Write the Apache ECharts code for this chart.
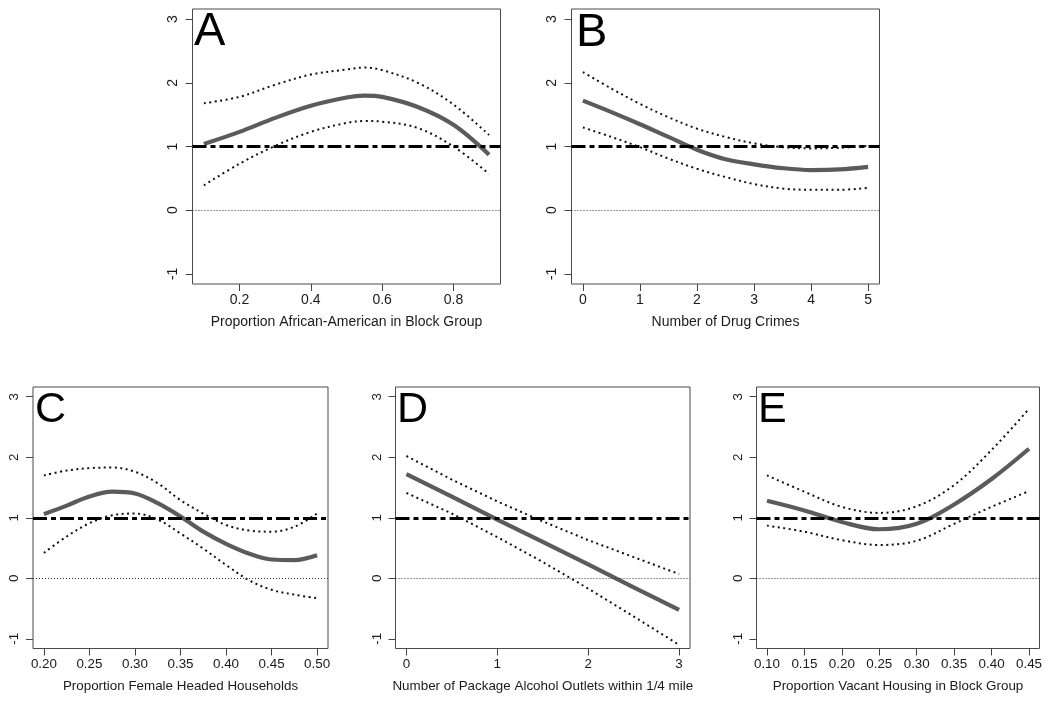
<!DOCTYPE html>
<html>
<head>
<meta charset="utf-8">
<script src="https://cdn.jsdelivr.net/npm/echarts@6/dist/echarts.min.js"></script>
<style>
html,body{margin:0;padding:0;background:#fff;}
#chart{width:1050px;height:704px;}
</style>
</head>
<body>
<div id="chart"></div>
<script>
// ---------- DATA ----------
const panelLetters = ['A', 'B', 'C', 'D', 'E'];
const xTitles = [
  'Proportion African-American in Block Group',
  'Number of Drug Crimes',
  'Proportion Female Headed Households',
  'Number of Package Alcohol Outlets within 1/4 mile',
  'Proportion Vacant Housing in Block Group'
];
const yTicks = [-1, 0, 1, 2, 3];

const xTicksA = [0.2, 0.4, 0.6, 0.8];
const xTicksB = [0, 1, 2, 3, 4, 5];
const xTicksC = [0.20, 0.25, 0.30, 0.35, 0.40, 0.45, 0.50];
const xTicksD = [0, 1, 2, 3];
const xTicksE = [0.10, 0.15, 0.20, 0.25, 0.30, 0.35, 0.40, 0.45];

// Panel A
const aX     = [0.1, 0.2, 0.3, 0.4, 0.5, 0.55, 0.6, 0.7, 0.8, 0.9];
const aFit   = [1.04, 1.23, 1.45, 1.64, 1.77, 1.80, 1.78, 1.62, 1.34, 0.87];
const aUpper = [1.68, 1.78, 1.97, 2.13, 2.21, 2.24, 2.20, 2.00, 1.66, 1.18];
const aLower = [0.39, 0.73, 1.01, 1.23, 1.37, 1.40, 1.39, 1.29, 1.00, 0.57];

// Panel B
const bX     = [0, 0.5, 1, 1.5, 2, 2.5, 3, 3.5, 4, 4.5, 5];
const bFit   = [1.72, 1.54, 1.35, 1.15, 0.95, 0.80, 0.72, 0.66, 0.63, 0.64, 0.68];
const bUpper = [2.17, 1.91, 1.67, 1.46, 1.28, 1.15, 1.05, 0.99, 0.97, 0.98, 1.01];
const bLower = [1.30, 1.15, 0.99, 0.81, 0.65, 0.52, 0.41, 0.34, 0.32, 0.32, 0.35];

// Panel C
const cX     = [0.2, 0.225, 0.25, 0.275, 0.3, 0.325, 0.35, 0.375, 0.4, 0.425, 0.45, 0.475, 0.5];
const cFit   = [1.06, 1.20, 1.35, 1.43, 1.40, 1.24, 1.02, 0.77, 0.57, 0.41, 0.31, 0.30, 0.38];
const cUpper = [1.70, 1.78, 1.82, 1.83, 1.76, 1.57, 1.29, 1.07, 0.88, 0.79, 0.77, 0.85, 1.07];
const cLower = [0.42, 0.69, 0.91, 1.04, 1.07, 0.97, 0.74, 0.49, 0.22, -0.03, -0.19, -0.27, -0.33];

// Panel D
const dX     = [0, 0.5, 1, 1.5, 2, 2.5, 3];
const dFit   = [1.72, 1.35, 0.97, 0.60, 0.23, -0.15, -0.52];
const dUpper = [2.02, 1.63, 1.27, 0.94, 0.63, 0.35, 0.07];
const dLower = [1.41, 1.07, 0.68, 0.27, -0.17, -0.63, -1.10];

// Panel E
const eX     = [0.10, 0.15, 0.20, 0.25, 0.30, 0.35, 0.40, 0.45];
const eFit   = [1.28, 1.12, 0.93, 0.81, 0.90, 1.22, 1.64, 2.14];
const eUpper = [1.70, 1.43, 1.18, 1.08, 1.19, 1.54, 2.12, 2.80];
const eLower = [0.87, 0.77, 0.63, 0.55, 0.62, 0.90, 1.18, 1.44];

const refLine = 1;   // dash-dot reference
const zeroLine = 0;  // thin dotted reference

// ---------- LAYOUT ----------
const FONT = '"Liberation Sans", Arial, sans-serif';
const panels = [
  {x: aX, fit: aFit, up: aUpper, lo: aLower, ticks: xTicksA, dec: 1, xmin: 0.068, xmax: 0.932, fs: 14,
   grid: {left: 192.5, top: 9, width: 308, height: 275}, letter: {x: 194, y: 9, size: 47}},
  {x: bX, fit: bFit, up: bUpper, lo: bLower, ticks: xTicksB, dec: 0, xmin: -0.2, xmax: 5.2, fs: 14,
   grid: {left: 571.5, top: 9, width: 308, height: 275}, letter: {x: 576, y: 10, size: 47}},
  {x: cX, fit: cFit, up: cUpper, lo: cLower, ticks: xTicksC, dec: 2, xmin: 0.188, xmax: 0.512, fs: 13.4,
   grid: {left: 33, top: 387, width: 295, height: 261.5}, letter: {x: 35, y: 389, size: 43}},
  {x: dX, fit: dFit, up: dUpper, lo: dLower, ticks: xTicksD, dec: 0, xmin: -0.12, xmax: 3.12, fs: 13.4,
   grid: {left: 395.5, top: 387, width: 294.5, height: 261.5}, letter: {x: 397, y: 389, size: 43}},
  {x: eX, fit: eFit, up: eUpper, lo: eLower, ticks: xTicksE, dec: 2, xmin: 0.086, xmax: 0.464, fs: 13.4,
   grid: {left: 756.5, top: 387, width: 283, height: 261.5}, letter: {x: 758, y: 389, size: 43}}
];

const grids = [], xAxes = [], yAxes = [], series = [], graphics = [];
const zip = (xs, ys) => xs.map((v, i) => [v, ys[i]]);

panels.forEach((p, i) => {
  grids.push(Object.assign({show: true, borderColor: '#4a4a4a', borderWidth: 1,
    backgroundColor: 'transparent', containLabel: false}, p.grid));
  xAxes.push({
    type: 'value', gridIndex: i, min: p.xmin, max: p.xmax, position: 'bottom',
    axisLine: {show: false, onZero: false}, splitLine: {show: false},
    axisTick: {show: true, inside: false, length: 7, customValues: p.ticks, lineStyle: {color: '#444', width: 1}},
    axisLabel: {show: true, customValues: p.ticks, margin: 9, color: '#1a1a1a', fontSize: p.fs,
      fontFamily: FONT, formatter: v => Number(v).toFixed(p.dec)},
    name: xTitles[i], nameLocation: 'middle', nameGap: 31,
    nameTextStyle: {color: '#1a1a1a', fontSize: p.fs, fontFamily: FONT}
  });
  yAxes.push({
    type: 'value', gridIndex: i, min: -1.16, max: 3.16, position: 'left',
    axisLine: {show: false, onZero: false}, splitLine: {show: false},
    axisTick: {show: true, inside: false, length: 7, customValues: yTicks, lineStyle: {color: '#444', width: 1}},
    axisLabel: {show: true, customValues: yTicks, rotate: 90, margin: 12, color: '#1a1a1a',
      fontSize: p.fs, fontFamily: FONT, align: 'center', verticalAlign: 'bottom',
      formatter: v => String(Math.round(v))}
  });
  series.push({
    type: 'line', xAxisIndex: i, yAxisIndex: i, data: zip(p.x, p.fit), smooth: i === 3 ? false : 0.35,
    showSymbol: false, symbol: 'none', lineStyle: {color: '#5b5b5b', width: 4.2}, z: 3
  });
  series.push({
    type: 'line', xAxisIndex: i, yAxisIndex: i, data: zip(p.x, p.up), smooth: i === 3 ? false : 0.35,
    showSymbol: false, symbol: 'none', lineStyle: {color: '#111', width: 2, type: [2, 3.5]}, z: 4
  });
  series.push({
    type: 'line', xAxisIndex: i, yAxisIndex: i, data: zip(p.x, p.lo), smooth: i === 3 ? false : 0.35,
    showSymbol: false, symbol: 'none', lineStyle: {color: '#111', width: 2, type: [2, 3.5]}, z: 4,
    markLine: {
      silent: true, symbol: 'none', label: {show: false}, animation: false, z: 5,
      data: [
        {yAxis: refLine, lineStyle: {color: '#000', width: 3, type: [14, 4, 5, 4]}},
        {yAxis: zeroLine, lineStyle: {color: '#333', width: 1, type: [1, 2]}}
      ]
    }
  });
  graphics.push({
    type: 'text', left: p.letter.x, top: p.letter.y, z: 10,
    style: {text: panelLetters[i], fontSize: p.letter.size, fontFamily: FONT, fill: '#000'}
  });
});

const chart = echarts.init(document.getElementById('chart'), null, {renderer: 'canvas'});
chart.setOption({
  animation: false,
  backgroundColor: '#fff',
  grid: grids, xAxis: xAxes, yAxis: yAxes, series: series, graphic: graphics
});
</script>
</body>
</html>
